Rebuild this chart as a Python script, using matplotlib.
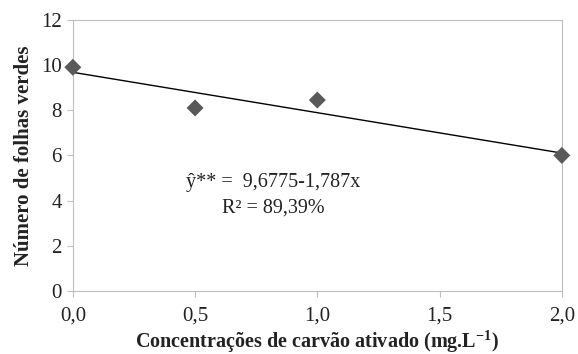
import matplotlib
matplotlib.use("Agg")
import matplotlib.pyplot as plt
import numpy as np

# data
concentracao = [0.0, 0.5, 1.0, 2.0]
folhas_verdes = [9.9, 8.1, 8.45, 6.0]
intercepto = 9.6775
inclinacao = -1.787
xticks = [0.0, 0.5, 1.0, 1.5, 2.0]
yticks = [0, 2, 4, 6, 8, 10, 12]

plt.rcParams["font.family"] = ["Liberation Serif", "DejaVu Serif"]
plt.rcParams["mathtext.fontset"] = "custom"
plt.rcParams["mathtext.rm"] = "Liberation Serif"
plt.rcParams["mathtext.bf"] = "Liberation Serif:bold"

fig, ax = plt.subplots(figsize=(5.78, 3.54), dpi=100)
fig.subplots_adjust(left=0.126, right=0.972, top=0.944, bottom=0.178)

xs = np.array([min(concentracao), max(concentracao)])
ax.plot(xs, intercepto + inclinacao * xs, color="black", linewidth=1.0, zorder=2)
ax.scatter(concentracao, folhas_verdes, marker="D", s=75, color="#595959",
           edgecolors="none", zorder=3, clip_on=False)

ax.text(0.82, 4.8, "ŷ** =  9,6775-1,787x", fontsize=14.5, ha="center",
        va="center", color="#222222")
ax.text(0.82, 3.65, "R² = 89,39%", fontsize=14.5, ha="center", va="center",
        color="#222222")

ax.set_xlim(0, 2)
ax.set_ylim(0, 12)
ax.set_xticks(xticks)
ax.set_xticklabels([f"{v:.1f}".replace(".", ",") for v in xticks])
ax.set_yticks(yticks)
for s in ax.spines.values():
    s.set_color("#bfbfbf")
ax.tick_params(axis="both", direction="out", length=4, color="#bfbfbf",
               labelsize=15, labelcolor="#222222", pad=4)
ax.tick_params(axis="x", pad=7)

ax.set_xlabel("Concentrações de carvão ativado (mg.L$^{\\mathbf{-1}}$)",
              fontsize=14.5, fontweight="bold", labelpad=2, color="#222222")
ax.set_ylabel("Número de folhas verdes", fontsize=15, fontweight="bold",
              labelpad=5, color="#222222")

fig.savefig("out.png", dpi=100)
